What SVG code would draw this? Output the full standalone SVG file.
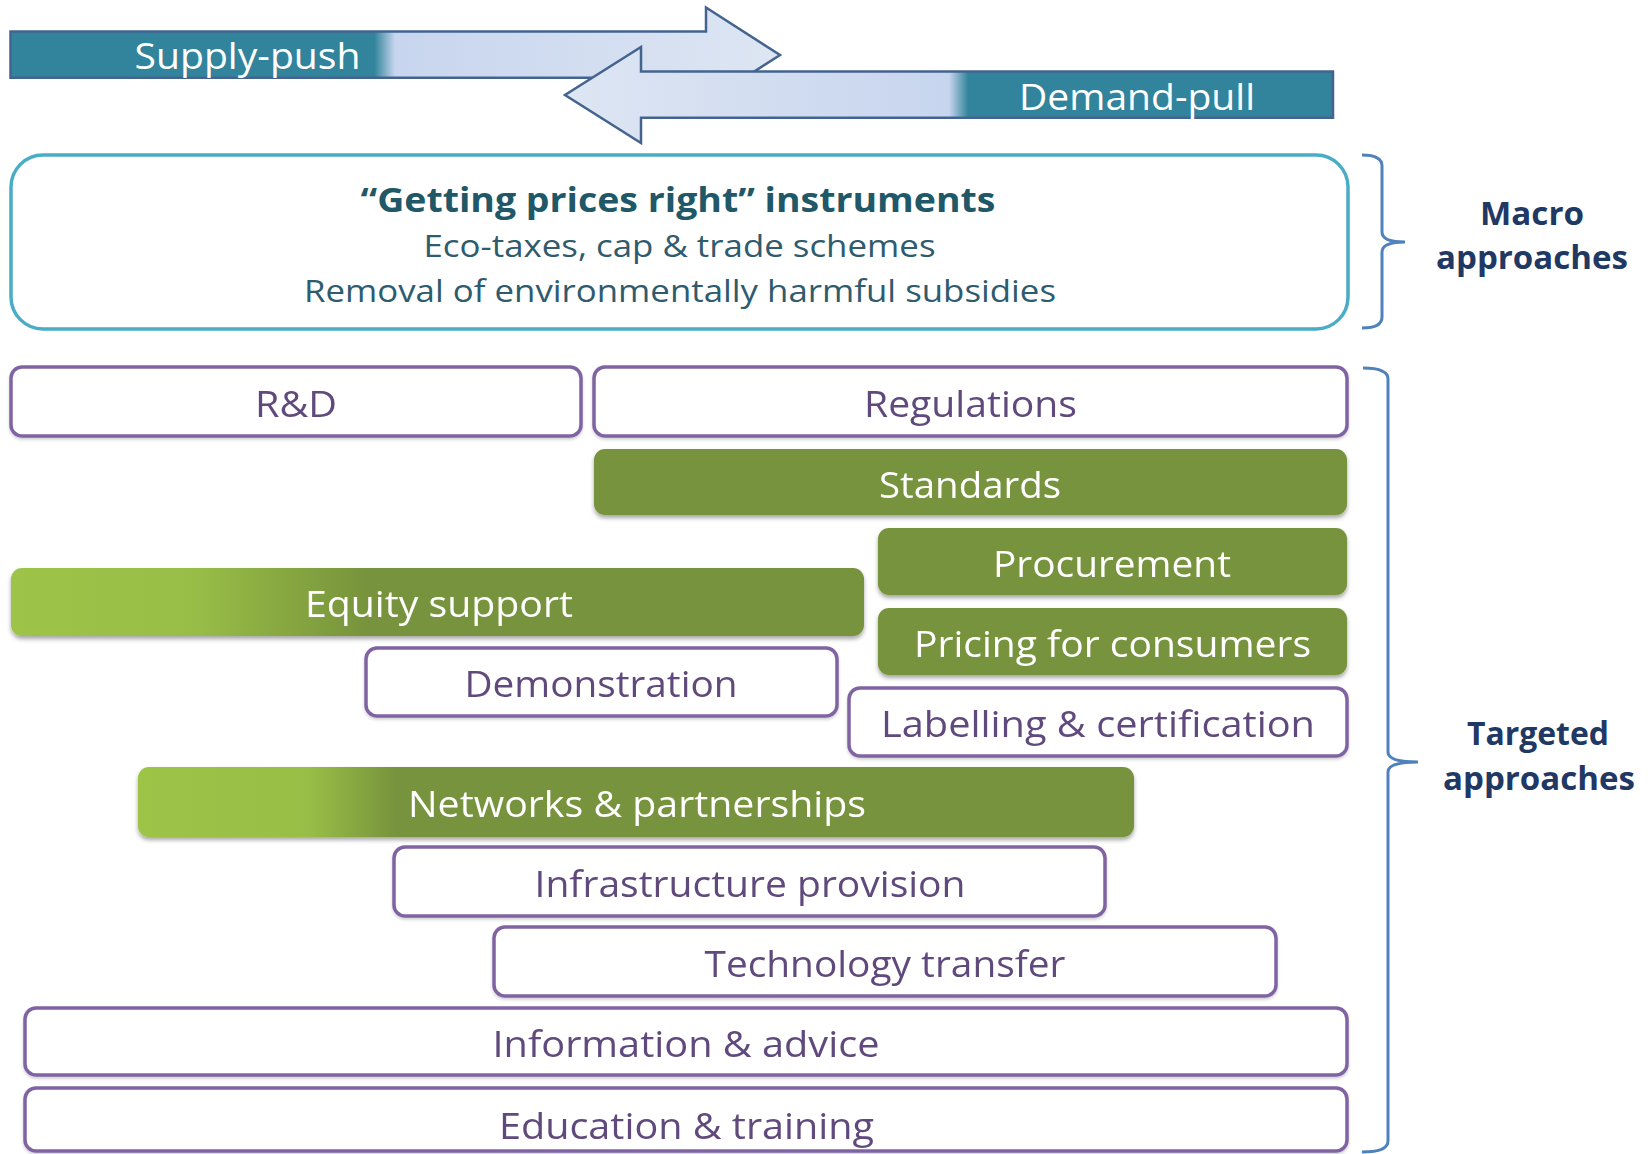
<svg xmlns="http://www.w3.org/2000/svg" width="1648" height="1154" viewBox="0 0 1648 1154">
<defs>
<style>
.t{font-family:"Open Sans","Liberation Sans",sans-serif;text-anchor:middle}
.box{fill:#FFFFFF;stroke:#8064A2;stroke-width:3.5}
.grn{fill:#77933C}
.bt{font-size:36px;fill:#604A7B}
.gt{font-size:36px;fill:#FFFFFF}
.side{font-size:32px;font-weight:bold;fill:#1F3864}
.brace{fill:none;stroke:#4F81BD;stroke-width:3}
.arrow{stroke:#44648F;stroke-width:2.5;stroke-linejoin:miter}
</style>
<linearGradient id="gSupply" gradientUnits="userSpaceOnUse" x1="10" y1="0" x2="780" y2="0">
<stop offset="0" stop-color="#31849B"/>
<stop offset="0.473" stop-color="#31849B"/>
<stop offset="0.5" stop-color="#C7D5EE"/>
<stop offset="1" stop-color="#DEE6F3"/>
</linearGradient>
<linearGradient id="gDemand" gradientUnits="userSpaceOnUse" x1="565" y1="0" x2="1333" y2="0">
<stop offset="0" stop-color="#DEE6F3"/>
<stop offset="0.5" stop-color="#C7D5EE"/>
<stop offset="0.525" stop-color="#31849B"/>
<stop offset="1" stop-color="#31849B"/>
</linearGradient>
<linearGradient id="gEquity" gradientUnits="userSpaceOnUse" x1="11" y1="0" x2="864" y2="0">
<stop offset="0" stop-color="#9DC347"/>
<stop offset="0.21" stop-color="#99BE47"/>
<stop offset="0.42" stop-color="#77933C"/>
<stop offset="1" stop-color="#77933C"/>
</linearGradient>
<linearGradient id="gNet" gradientUnits="userSpaceOnUse" x1="138" y1="0" x2="1134" y2="0">
<stop offset="0" stop-color="#9DC347"/>
<stop offset="0.17" stop-color="#99BE47"/>
<stop offset="0.26" stop-color="#77933C"/>
<stop offset="1" stop-color="#77933C"/>
</linearGradient>
<filter id="shG" x="-5%" y="-20%" width="110%" height="150%">
<feDropShadow dx="0" dy="3" stdDeviation="2" flood-color="#000" flood-opacity="0.35"/>
</filter>
<filter id="shW" x="-5%" y="-20%" width="110%" height="150%">
<feDropShadow dx="0" dy="2" stdDeviation="1.5" flood-color="#000" flood-opacity="0.18"/>
</filter>
</defs>
<rect width="1648" height="1154" fill="#FFFFFF"/>

<g id="arrows">
<g id="supply-push">
<polygon class="arrow" fill="url(#gSupply)" points="10.5,31.5 706,31.5 706,7.5 780,55 706,102.5 706,77.8 10.5,77.8"/>
<text class="t" x="247.5" y="69" font-size="37" fill="#FFFFFF" textLength="226" lengthAdjust="spacingAndGlyphs">Supply-push</text>
</g>
<g id="demand-pull">
<polygon class="arrow" fill="url(#gDemand)" points="1333,71.5 641,71.5 641,47 565,95 641,143 641,117.7 1333,117.7"/>
<text class="t" x="1137" y="109.5" font-size="37" fill="#FFFFFF" textLength="236" lengthAdjust="spacingAndGlyphs">Demand-pull</text>
</g>
</g>

<g id="macro">
<rect x="11" y="155" width="1337" height="174" rx="32" ry="32" fill="#FFFFFF" stroke="#4BACC6" stroke-width="3.5"/>
<text class="t" x="678" y="211.5" font-size="34" font-weight="bold" fill="#215868" textLength="635" lengthAdjust="spacingAndGlyphs">“Getting prices right” instruments</text>
<text class="t" x="679.5" y="256.5" font-size="31" fill="#2F5B6E" textLength="512" lengthAdjust="spacingAndGlyphs">Eco-taxes, cap &amp; trade schemes</text>
<text class="t" x="680" y="302" font-size="31" fill="#2F5B6E" textLength="752" lengthAdjust="spacingAndGlyphs">Removal of environmentally harmful subsidies</text>
</g>

<g id="braces">
<path class="brace" d="M1362,155 Q1382,155 1382,166 L1382,232 Q1382,242 1405,242 Q1382,242 1382,252 L1382,317 Q1382,328 1362,328"/>
<path class="brace" d="M1363,368 Q1388,368 1388,379 L1388,752 Q1388,762 1418,762 Q1388,762 1388,772 L1388,1141 Q1388,1152 1362,1152"/>
</g>

<g id="label-macro">
<text class="t side" x="1532" y="225" textLength="104" lengthAdjust="spacingAndGlyphs">Macro</text>
<text class="t side" x="1532" y="269" textLength="192" lengthAdjust="spacingAndGlyphs">approaches</text>
</g>
<g id="label-targeted">
<text class="t side" x="1538" y="745" textLength="142" lengthAdjust="spacingAndGlyphs">Targeted</text>
<text class="t side" x="1539" y="790" textLength="192" lengthAdjust="spacingAndGlyphs">approaches</text>
</g>

<g id="rd" filter="url(#shW)">
<rect class="box" x="11" y="367" width="570" height="69" rx="11"/>
<text class="t bt" x="296" y="416.5" textLength="82" lengthAdjust="spacingAndGlyphs">R&amp;D</text>
</g>
<g id="regulations" filter="url(#shW)">
<rect class="box" x="594" y="367" width="753" height="69" rx="11"/>
<text class="t bt" x="970.5" y="416.5" textLength="213" lengthAdjust="spacingAndGlyphs">Regulations</text>
</g>
<g id="standards" filter="url(#shG)">
<rect class="grn" x="594" y="449" width="753" height="66" rx="11"/>
<text class="t gt" x="970" y="497.5" textLength="182" lengthAdjust="spacingAndGlyphs">Standards</text>
</g>
<g id="procurement" filter="url(#shG)">
<rect class="grn" x="878" y="528" width="469" height="67" rx="11"/>
<text class="t gt" x="1112" y="576.5" textLength="238" lengthAdjust="spacingAndGlyphs">Procurement</text>
</g>
<g id="equity-support" filter="url(#shG)">
<rect x="11" y="568" width="853" height="68" rx="11" fill="url(#gEquity)"/>
<text class="t gt" x="439" y="617" textLength="268" lengthAdjust="spacingAndGlyphs">Equity support</text>
</g>
<g id="pricing" filter="url(#shG)">
<rect class="grn" x="878" y="608" width="469" height="67" rx="11"/>
<text class="t gt" x="1112.5" y="656.5" textLength="397" lengthAdjust="spacingAndGlyphs">Pricing for consumers</text>
</g>
<g id="demonstration" filter="url(#shW)">
<rect class="box" x="366" y="648" width="471" height="68" rx="11"/>
<text class="t bt" x="601" y="697" textLength="273" lengthAdjust="spacingAndGlyphs">Demonstration</text>
</g>
<g id="labelling" filter="url(#shW)">
<rect class="box" x="849" y="688" width="498" height="68" rx="11"/>
<text class="t bt" x="1098" y="737" textLength="434" lengthAdjust="spacingAndGlyphs">Labelling &amp; certification</text>
</g>
<g id="networks" filter="url(#shG)">
<rect x="138" y="767" width="996" height="70" rx="11" fill="url(#gNet)"/>
<text class="t gt" x="637" y="817" textLength="458" lengthAdjust="spacingAndGlyphs">Networks &amp; partnerships</text>
</g>
<g id="infrastructure" filter="url(#shW)">
<rect class="box" x="394" y="847" width="711" height="69" rx="11"/>
<text class="t bt" x="750" y="896.5" textLength="431" lengthAdjust="spacingAndGlyphs">Infrastructure provision</text>
</g>
<g id="technology" filter="url(#shW)">
<rect class="box" x="494" y="927" width="782" height="69" rx="11"/>
<text class="t bt" x="885" y="976.5" textLength="361" lengthAdjust="spacingAndGlyphs">Technology transfer</text>
</g>
<g id="information" filter="url(#shW)">
<rect class="box" x="25" y="1008" width="1322" height="67" rx="11"/>
<text class="t bt" x="686" y="1056.5" textLength="387" lengthAdjust="spacingAndGlyphs">Information &amp; advice</text>
</g>
<g id="education" filter="url(#shW)">
<rect class="box" x="25" y="1088" width="1322" height="63" rx="11"/>
<text class="t bt" x="686.5" y="1138.5" textLength="375" lengthAdjust="spacingAndGlyphs">Education &amp; training</text>
</g>
</svg>
